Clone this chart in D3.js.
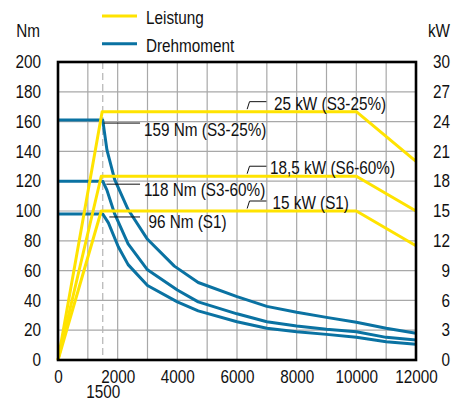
<!DOCTYPE html>
<html><head><meta charset="utf-8">
<script src="https://cdn.jsdelivr.net/npm/d3@7"></script>
<style>
body{margin:0;background:#fff;}
svg text{font-family:"Liberation Sans","Arial",sans-serif;fill:#111;}
</style></head><body>
<svg id="c" width="453" height="402"></svg>
<script>
// ---- data ----
const xTicks = [0, 2000, 4000, 6000, 8000, 10000, 12000];
const xExtraTick = [1500];
const xGrid = [1000, 2000, 3000, 4000, 5000, 6000, 7000, 8000, 9000, 10000, 11000];
const yLeftTicks = [0, 20, 40, 60, 80, 100, 120, 140, 160, 180, 200];
const yRightTicks = [0, 3, 6, 9, 12, 15, 18, 21, 24, 27, 30];

// Leistung (kW) vs rpm
const powerRpmS3 = [0, 1480, 10000, 12000];
const powerS3 = [0, 25, 25, 20];
const powerRpmS6 = [0, 1450, 10000, 12000];
const powerS6 = [0, 18.5, 18.5, 15];
const powerRpmS1 = [0, 1450, 10000, 12000];
const powerS1 = [0, 15, 15, 11.5];

// Drehmoment (Nm) vs rpm
const torqueRpmS3 = [0, 1500, 1640, 1900, 2350, 3000, 3900, 4700, 6000, 7000, 8000, 9000, 10000, 11000, 12000];
const torqueS3 = [161, 161, 141, 121, 101, 81, 63, 52, 42.5, 36, 32, 28.6, 25.3, 21.3, 17.9];
const torqueRpmS36 = [0, 1500, 1640, 1900, 2350, 3000, 4000, 4700, 6000, 7000, 8000, 9000, 10000, 11000, 12000];
const torqueS36 = [120, 120, 114, 98, 78, 60.5, 47, 39, 31, 25.7, 22.8, 20.6, 19, 15.2, 13.4];
const torqueRpmS1 = [0, 1500, 1690, 2020, 2350, 3000, 4000, 4700, 6000, 7000, 8000, 9000, 10000, 11000, 12000];
const torqueS1 = [98, 98, 92, 76, 64, 50, 39, 33, 25.7, 21.3, 19, 17.2, 15.2, 12.3, 10.5];

const torqueLabels = ["159 Nm (S3-25%)", "118 Nm (S3-60%)", "96 Nm (S1)"];
const torqueLabelValues = [159, 118, 96];
const powerLabels = ["25 kW (S3-25%)", "18,5 kW (S6-60%)", "15 kW (S1)"];
const powerLabelValues = [25, 18.5, 15];

const legendLabels = ["Leistung", "Drehmoment"];

// ---- drawing ----
const YELLOW = "#ffe300", BLUE = "#0a72a2";
const svg = d3.select("#c");
const L = 58, R = 416, T = 62, B = 360;
const x = d3.scaleLinear().domain([0, 12000]).range([L, R]);
const yL = d3.scaleLinear().domain([0, 200]).range([B, T]);
const yR = d3.scaleLinear().domain([0, 30]).range([B, T]);
const FS = 18;

// grid
const g = svg.append("g");
g.selectAll(".vg").data(xGrid).join("line")
  .attr("x1", d => x(d)).attr("x2", d => x(d)).attr("y1", T).attr("y2", B)
  .attr("stroke", "#a8a8a8").attr("stroke-width", 1.2);
g.selectAll(".hg").data(yLeftTicks.slice(1, -1)).join("line")
  .attr("x1", L).attr("x2", R).attr("y1", d => yL(d)).attr("y2", d => yL(d))
  .attr("stroke", "#a8a8a8").attr("stroke-width", 1.2);
g.selectAll(".dg").data(xExtraTick).join("line")
  .attr("x1", d => x(d)).attr("x2", d => x(d)).attr("y1", T).attr("y2", B)
  .attr("stroke", "#b4b4b4").attr("stroke-width", 1.2).attr("stroke-dasharray", "7,4");

// curves
const mk = (rpms, vals, ys) => d3.line().x((d, i) => x(rpms[i])).y(d => ys(d))(vals);
[[torqueRpmS3, torqueS3], [torqueRpmS36, torqueS36], [torqueRpmS1, torqueS1]].forEach(([r, v]) => {
  svg.append("path").attr("d", mk(r, v, yL)).attr("fill", "none")
    .attr("stroke", BLUE).attr("stroke-width", 3).attr("stroke-linejoin", "round");
});
[[powerRpmS3, powerS3], [powerRpmS6, powerS6], [powerRpmS1, powerS1]].forEach(([r, v]) => {
  svg.append("path").attr("d", mk(r, v, yR)).attr("fill", "none")
    .attr("stroke", YELLOW).attr("stroke-width", 3).attr("stroke-linejoin", "round");
});

// frame
svg.append("rect").attr("x", L).attr("y", T).attr("width", R - L).attr("height", B - T)
  .attr("fill", "none").attr("stroke", "#000").attr("stroke-width", 2.6);

// axes
const styleAxis = sel => { sel.select(".domain").remove(); sel.selectAll("text").attr("font-size", FS).attr("fill", "#111")
  .attr("font-family", "'Liberation Sans',Arial,sans-serif"); };
svg.append("g").attr("transform", `translate(${L - 17},0)`)
  .call(d3.axisLeft(yL).tickValues(yLeftTicks).tickSize(0).tickPadding(0).tickFormat(d3.format("d"))).call(styleAxis);
svg.append("g").attr("transform", `translate(450,0)`)
  .call(d3.axisLeft(yR).tickValues(yRightTicks).tickSize(0).tickPadding(0).tickFormat(d3.format("d"))).call(styleAxis);
svg.append("g").attr("transform", `translate(0,${B})`)
  .call(d3.axisBottom(x).tickValues(xTicks).tickSize(0).tickPadding(10).tickFormat(d3.format("d"))).call(styleAxis);
svg.append("g").attr("transform", `translate(0,${B})`)
  .call(d3.axisBottom(x).tickValues(xExtraTick).tickSize(0).tickPadding(25).tickFormat(d3.format("d"))).call(styleAxis);

// axis titles
svg.append("text").attr("x", 40).attr("y", 37).attr("text-anchor", "end").attr("font-size", FS).text("Nm");
svg.append("text").attr("x", 450).attr("y", 37).attr("text-anchor", "end").attr("font-size", FS).text("kW");

// legend
const legColors = [YELLOW, BLUE];
legendLabels.forEach((lab, i) => {
  const yy = 16 + i * 27.7;
  svg.append("line").attr("x1", 102).attr("x2", 137).attr("y1", yy).attr("y2", yy)
    .attr("stroke", legColors[i]).attr("stroke-width", 3);
  svg.append("text").attr("x", 146).attr("y", yy + 8.5).attr("font-size", FS).text(lab);
});

// torque annotations
const tLeaderStart = [1530, 1620, 1720];
const tTextRpm = [2885, 2885, 3030];
const tTextDy = [13.4, 12, 11];
torqueLabels.forEach((lab, i) => {
  const v = torqueLabelValues[i];
  svg.append("line").attr("x1", x(tLeaderStart[i])).attr("x2", x(2750))
    .attr("y1", yL(v)).attr("y2", yL(v)).attr("stroke", "#111").attr("stroke-width", 1);
  svg.append("text").attr("x", x(tTextRpm[i])).attr("y", yL(v) + tTextDy[i]).attr("font-size", FS).text(lab);
});

// power annotations
const pTextRpm = [7240, 7110, 7190];
powerLabels.forEach((lab, i) => {
  const v = powerLabelValues[i];
  const y0 = yR(v) - 2.5, y1 = yR(v) - 10;
  const xa = x(6340), xb = x(6420), xc = x(6985);
  svg.append("path").attr("d", `M${xa},${y0}L${xb},${y1}L${xc},${y1}`)
    .attr("fill", "none").attr("stroke", "#111").attr("stroke-width", 1);
  svg.append("text").attr("x", x(pTextRpm[i])).attr("y", yR(v) - 2).attr("font-size", FS).text(lab);
});

// condense all text horizontally around its anchor (the reference uses a condensed face)
svg.selectAll("text").each(function () {
  const ax = +(this.getAttribute("x") || 0), ay = +(this.getAttribute("y") || 0);
  this.setAttribute("transform", `translate(${ax},${ay}) scale(0.85,1) translate(${-ax},${-ay})`);
});
</script>
</body></html>
